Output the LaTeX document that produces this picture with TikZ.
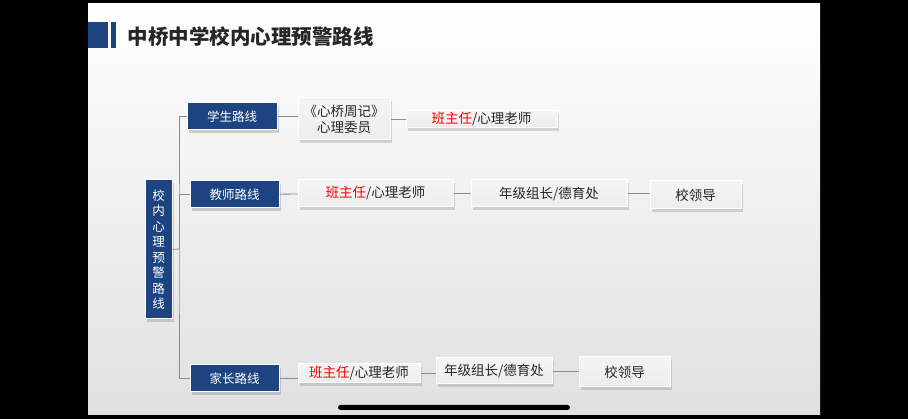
\documentclass[tikz,border=0pt]{standalone}
\usepackage{fontspec}
\setmainfont{Noto Sans CJK SC}
\usetikzlibrary{shadows}
\definecolor{navy}{HTML}{1D4480}
\definecolor{boxg}{HTML}{EDEDED}
\definecolor{lineg}{HTML}{8C8C8C}
\tikzset{
 bluebox/.style={draw=white,line width=1pt,fill=navy,text=white,font=\fontsize{12.5}{12}\selectfont,minimum height=27pt,inner sep=0pt,drop shadow={opacity=0.35,shadow xshift=2pt,shadow yshift=-3pt}},
 greybox/.style={draw=white,line width=1pt,top color=boxg!60!white,bottom color=boxg,text=black!85,font=\fontsize{13.5}{16}\selectfont,inner sep=0pt,align=center,drop shadow={opacity=0.3,shadow xshift=2pt,shadow yshift=-3pt}},
 conn/.style={draw=lineg,line width=0.8pt}
}
\newcommand{\red}[1]{\textcolor{red}{#1}}
\begin{document}
\begin{tikzpicture}[x=1pt,y=-1pt]
\fill[black] (0,0) rectangle (908,419);
\shade[top color=white,bottom color=black!12] (88,4) rectangle (820,415);
\useasboundingbox (0,0) rectangle (908,419);
\fill[navy] (88,22) rectangle (108,48);
\fill[navy] (111,22) rectangle (116,48);
\node[anchor=west,font=\fontsize{20.5}{20}\selectfont\bfseries,text=black!85] (title) at (124,37) {中桥中学校内心理预警路线};
% main
\node[bluebox,minimum width=27pt,minimum height=139pt,align=center,font=\fontsize{12.5}{15.5}\selectfont] (main) at (158.5,249.5) {校\\内\\心\\理\\预\\警\\路\\线};
\node[bluebox,minimum width=90pt] (s) at (232,116.5) {学生路线};
\node[bluebox,minimum width=89pt] (t) at (234.5,194.5) {教师路线};
\node[bluebox,minimum width=89pt] (p) at (234.5,378.5) {家长路线};
\coordinate (sp) at (179,249);
% student row
\node[greybox,minimum width=92pt,minimum height=42pt] (s1) at (344,119) {《心桥周记》\\心理委员};
\node[greybox,minimum width=151pt,minimum height=17pt] (s2) at (481.5,119.5) {\red{班主任}/心理老师};
% teacher row
\node[greybox,minimum width=155pt,minimum height=27pt] (t1) at (375.5,193.5) {\red{班主任}/心理老师};
\node[greybox,minimum width=156pt,minimum height=27pt] (t2) at (549,193.5) {年级组长/德育处};
\node[greybox,minimum width=91pt,minimum height=28pt] (t3) at (695.5,195) {校领导};
% parent row
\node[greybox,minimum width=122pt,minimum height=19pt] (p1) at (359,373.5) {\red{班主任}/心理老师};
\node[greybox,minimum width=116pt,minimum height=26pt] (p2) at (494,371) {年级组长/德育处};
\node[greybox,minimum width=91pt,minimum height=30pt] (p3) at (624.5,372) {校领导};
% connectors
\draw[conn] (main.east) -- (sp);
\draw[conn] (s.west) -| (sp) |- (p.west);
\draw[conn] (sp) |- (t.west);
\draw[conn] (s.east) -- (s1.west|-s.east);
\draw[conn] (s1.east|-s2.west) -- (s2.west);
\draw[conn] (t) -- (t1) (t1) -- (t2) (t2) -- (t3.west|-t2.east);
\draw[conn] (p) -- (p1.west|-p.east) (p1.east) -- (p2.west|-p1.east) (p2.east) -- (p3.west|-p2.east);
\fill[black,rounded corners=2.5pt] (338,405) rectangle (570,410);
\end{tikzpicture}
\end{document}
